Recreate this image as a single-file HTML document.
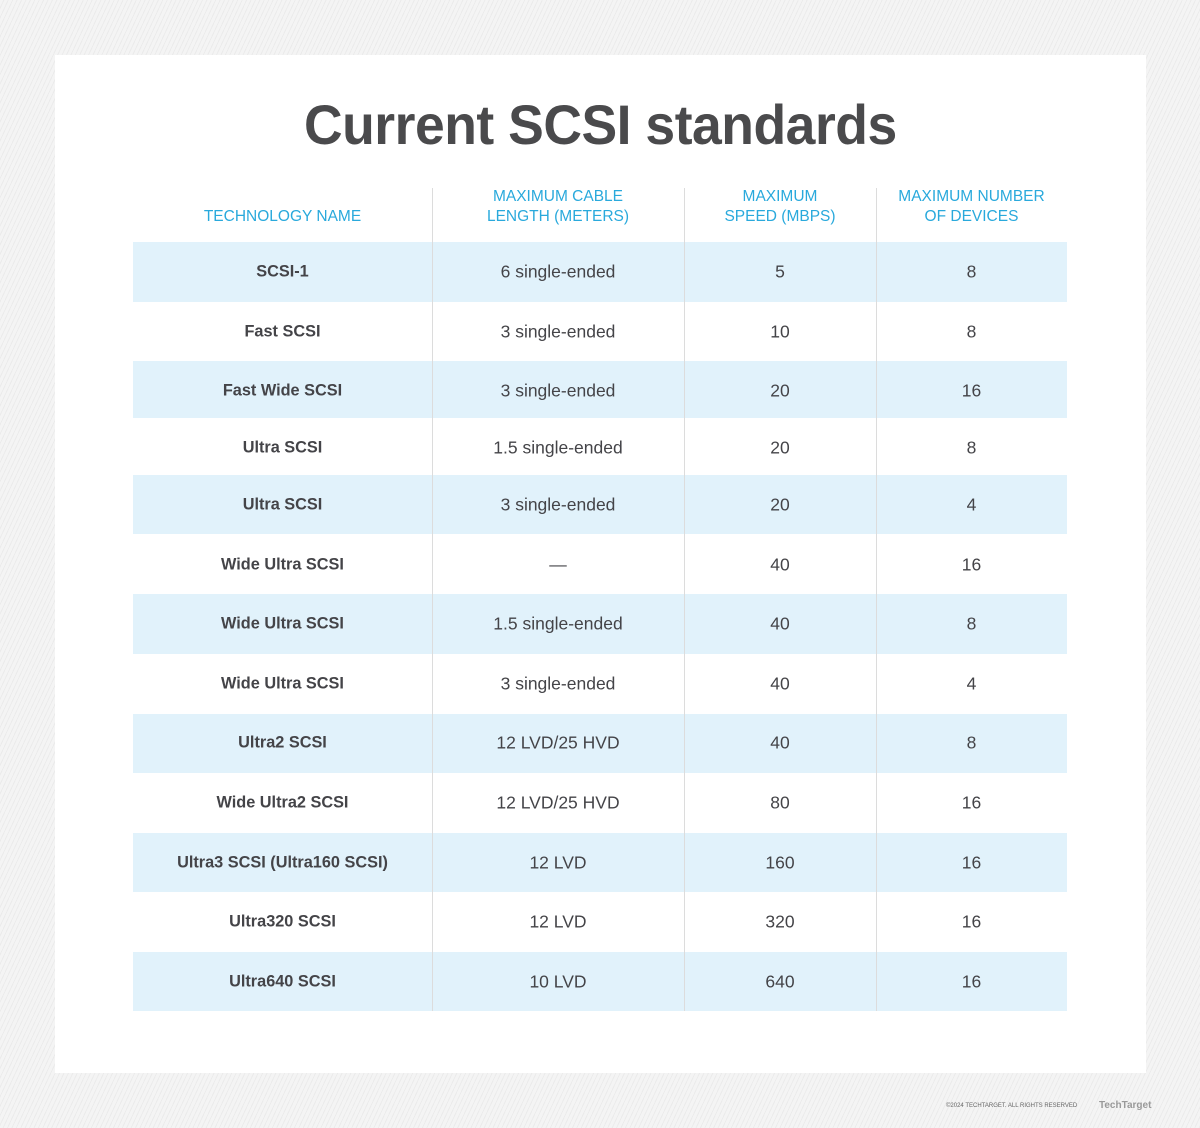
<!DOCTYPE html>
<html><head><meta charset="utf-8"><style>
body{margin:0;width:1200px;height:1128px;position:relative;overflow:hidden;font-family:"Liberation Sans",sans-serif;
background:repeating-linear-gradient(115deg,#f4f4f4 0 3px,#ebebeb 3px 4px);}
.card{position:absolute;left:55px;top:55px;width:1091px;height:1018px;background:#fff;}
.t{position:absolute;left:0;width:1200px;top:92px;text-align:center;font-weight:bold;font-size:56px;color:#4a4a4c;}
.t span{display:inline-block;transform:scaleX(0.955);letter-spacing:-0.5px}
.h{position:absolute;color:#29a9dc;font-size:15.5px;text-align:center;line-height:20px;}
.row{position:absolute;left:133px;width:934px;}
.blue{background:#e1f2fb;}
.c{position:absolute;font-size:17.5px;color:#444448;text-align:center;transform:translateY(-50%);margin-top:2px}
.b{font-weight:bold;font-size:16.3px;}
.v{position:absolute;top:188px;height:823px;width:1px;background:#dcdcdc;}
.f{position:absolute;left:946px;top:1103px;font-size:6px;color:#666;}
.tt{position:absolute;left:1099px;top:1100px;font-size:10px;color:#999;font-weight:bold;}
</style></head><body>
<div class="card"></div>
<div class="t"><span>Current SCSI standards</span></div>
<div class="h" style="left:133px;width:299px;top:207px">TECHNOLOGY NAME</div>
<div class="h" style="left:432px;width:252px;top:187px">MAXIMUM CABLE<br>LENGTH (METERS)</div>
<div class="h" style="left:684px;width:192px;top:187px">MAXIMUM<br>SPEED (MBPS)</div>
<div class="h" style="left:876px;width:191px;top:187px">MAXIMUM NUMBER<br>OF DEVICES</div>
<div class="row blue" style="top:242px;height:60px"></div>
<div class="row blue" style="top:361px;height:57px"></div>
<div class="row blue" style="top:475px;height:59px"></div>
<div class="row blue" style="top:594px;height:60px"></div>
<div class="row blue" style="top:714px;height:59px"></div>
<div class="row blue" style="top:833px;height:59px"></div>
<div class="row blue" style="top:952px;height:59px"></div>
<div class="v" style="left:432px"></div>
<div class="v" style="left:684px"></div>
<div class="v" style="left:876px"></div>
<div id="rows"></div>
<script>
var d=[[270,"SCSI-1","6 single-ended","5","8"],[330,"Fast SCSI","3 single-ended","10","8"],[389,"Fast Wide SCSI","3 single-ended","20","16"],[446,"Ultra SCSI","1.5 single-ended","20","8"],[503,"Ultra SCSI","3 single-ended","20","4"],[563,"Wide Ultra SCSI","—","40","16"],[622,"Wide Ultra SCSI","1.5 single-ended","40","8"],[682,"Wide Ultra SCSI","3 single-ended","40","4"],[741,"Ultra2 SCSI","12 LVD/25 HVD","40","8"],[801,"Wide Ultra2 SCSI","12 LVD/25 HVD","80","16"],[861,"Ultra3 SCSI (Ultra160 SCSI)","12 LVD","160","16"],[920,"Ultra320 SCSI","12 LVD","320","16"],[980,"Ultra640 SCSI","10 LVD","640","16"]];
var cols=[[133,299],[432,252],[684,192],[876,191]],h="";
d.forEach(function(r){for(var i=0;i<4;i++)h+='<div class="c'+(i==0?' b':'')+'" style="left:'+cols[i][0]+'px;width:'+cols[i][1]+'px;top:'+r[0]+'px">'+r[i+1]+'</div>';});
document.getElementById("rows").outerHTML=h;
</script>
<div class="f">©2024 TECHTARGET. ALL RIGHTS RESERVED</div>
<div class="tt">TechTarget</div>
</body></html>
